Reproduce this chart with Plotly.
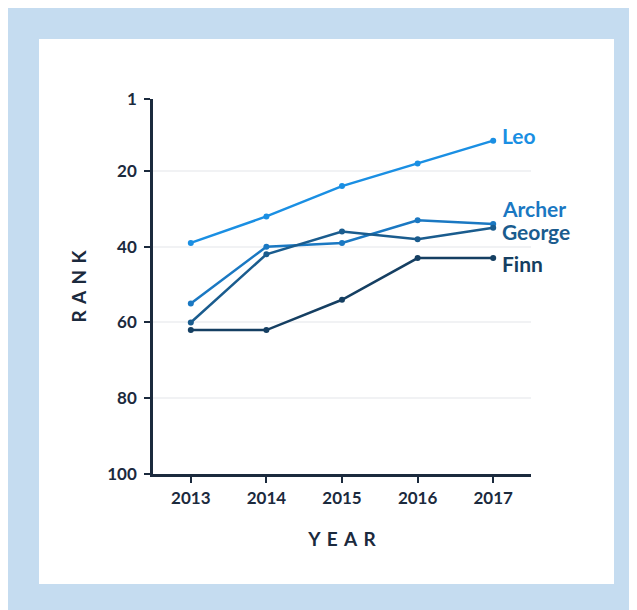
import plotly.graph_objects as go

years = [2013, 2014, 2015, 2016, 2017]
names = ["Leo", "Archer", "George", "Finn"]
leo = [39, 32, 24, 18, 12]
archer = [55, 40, 39, 33, 34]
george = [60, 42, 36, 38, 35]
finn = [62, 62, 54, 43, 43]
series = [leo, archer, george, finn]
colors = ["#1a8fe3", "#1a78c2", "#1a5c8e", "#153f62"]
label_shift = [5, 16, -4, -5]
yticks = [1, 20, 40, 60, 80, 100]

navy = "#1b2a3d"
font = "Lato"

fig = go.Figure()
for name, vals, c in zip(names, series, colors):
    fig.add_trace(go.Scatter(x=years, y=vals, mode="lines+markers", name=name,
                             line=dict(color=c, width=2.5),
                             marker=dict(color=c, size=6)))

for name, vals, c, s in zip(names, series, colors, label_shift):
    fig.add_annotation(x=years[-1], y=vals[-1], xref="x", yref="y", text="<b>%s</b>" % name,
                       showarrow=False, xanchor="left", yanchor="middle",
                       xshift=7, yshift=s, font=dict(family=font, size=21, color=c))

O = 7  # page offset of the figure
W, H = 637, 610
L, R, T, B = 152 - O, W - (530 - O), 98 - O, H - (473 - O)
pw, ph = W - L - R, H - T - B

def px(x):
    return (x - O - L) / pw

def py(y):
    return (H - B - (y - O)) / ph

shapes = [
    dict(type="rect", xref="paper", yref="paper", x0=px(38), x1=px(613), y0=py(583), y1=py(38),
         fillcolor="white", line=dict(width=0), layer="below"),
]

sp = "\u2004"
fig.update_layout(
    width=W, height=H,
    margin=dict(l=L, r=R, t=T, b=B, pad=0),
    paper_bgcolor="#c5dcf0",
    plot_bgcolor="rgba(0,0,0,0)",
    showlegend=False,
    shapes=shapes,
    font=dict(family=font, color=navy),
    xaxis=dict(range=[2012.5, 2017.5], tickvals=years, ticks="outside", ticklen=6, tickwidth=2,
               tickcolor=navy, showline=True, linecolor=navy, linewidth=2.5, showgrid=False,
               zeroline=False, ticklabelstandoff=1,
               tickfont=dict(family=font, size=17, color=navy, weight="bold"),
               title=dict(text="<b>" + sp.join("YEAR") + "</b>", font=dict(family=font, size=19, color=navy),
                          standoff=26)),
    yaxis=dict(range=[100, 1], tickvals=yticks, ticks="outside", ticklen=6, tickwidth=2,
               tickcolor=navy, showline=True, linecolor=navy, linewidth=2.5, showgrid=True,
               gridcolor="#f1f2f4", gridwidth=2, zeroline=False, ticklabelstandoff=4,
               tickfont=dict(family=font, size=17, color=navy, weight="bold"),
               title=dict(text="<b>" + sp.join("RANK") + "</b>", font=dict(family=font, size=19, color=navy),
                          standoff=16)),
)

fig.write_html("out.html")
